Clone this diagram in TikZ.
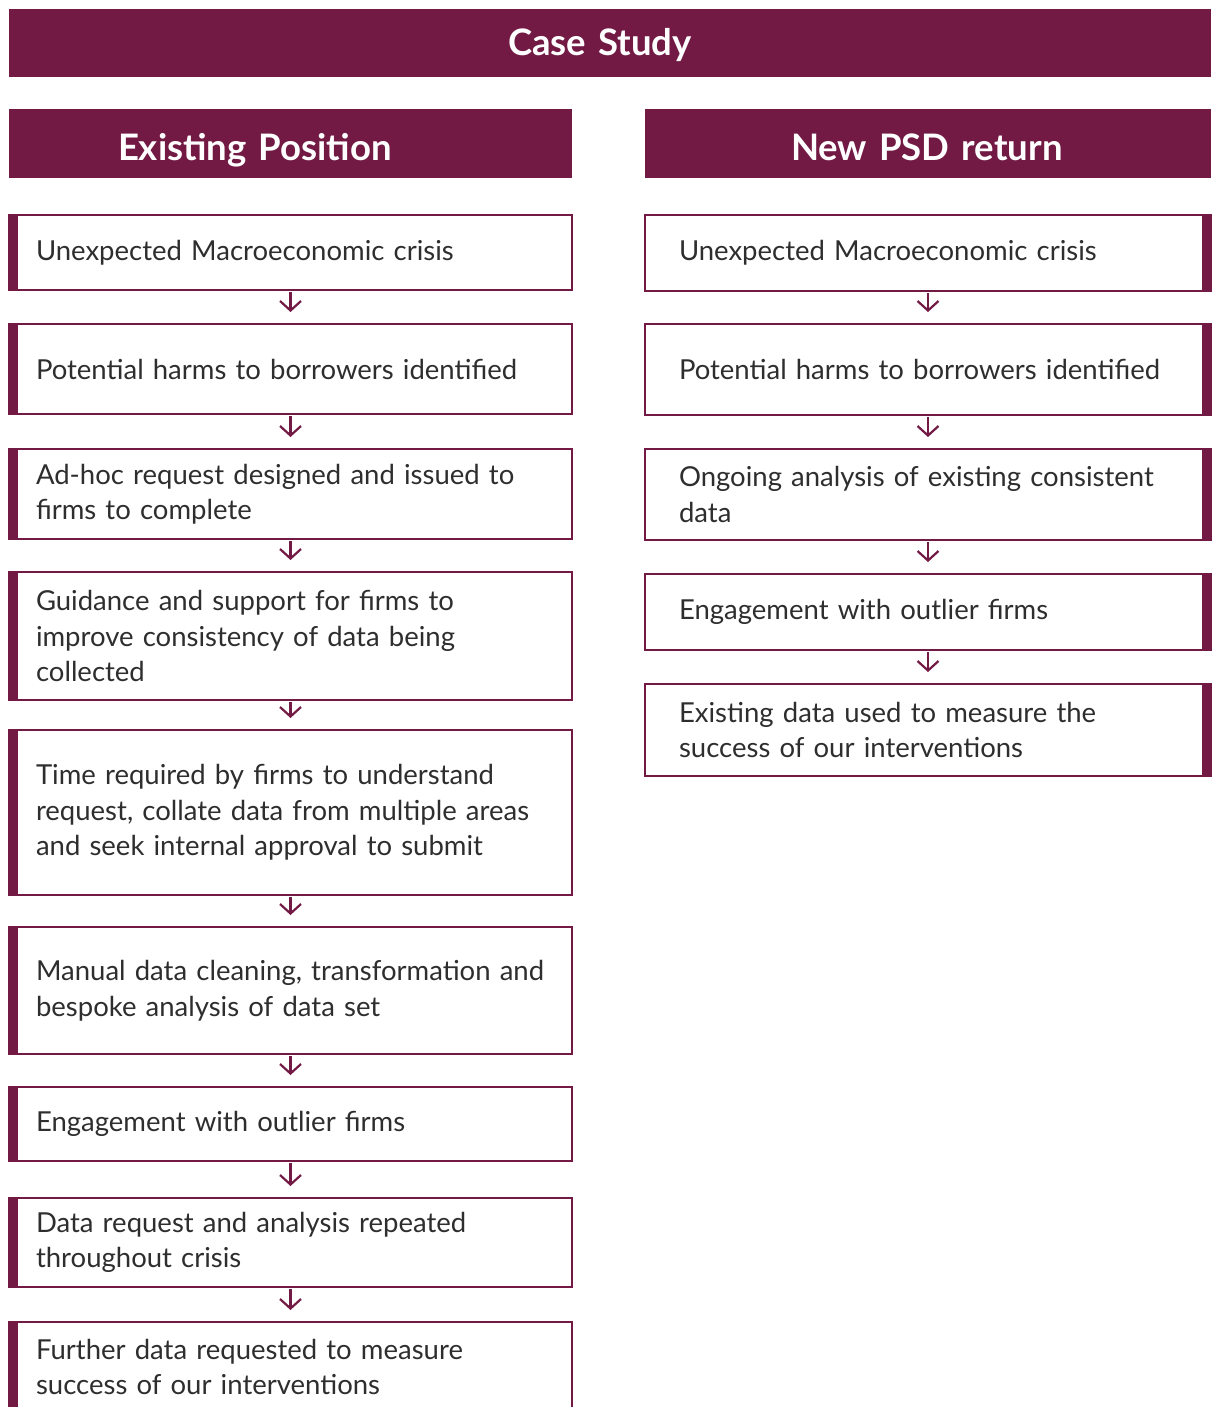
\documentclass[tikz,border=0pt]{standalone}
\usepackage{fontspec}
\setmainfont{Lato}[WordSpace=0.78]
\usepackage{tikz}
\usetikzlibrary{arrows.meta,positioning}
\definecolor{plum}{RGB}{114,26,68}
\tikzset{
  banner/.style={fill=plum, text=white, font=\bfseries\fontsize{36.5}{40}\selectfont,
                 text height=52pt, text depth=17pt, inner ysep=0pt, anchor=north west,
                 align=left, outer sep=0pt},
  stepbox/.style={draw=plum, line width=1.4pt, fill=white, align=left, inner ysep=0pt,
                  outer sep=0pt, font=\fontsize{27.5}{35.5}\selectfont, text=black!82},
  stepL/.style={stepbox, minimum width=563pt, text width=509pt, inner xsep=27pt,
                path picture={\fill[plum] (path picture bounding box.north west)
                  rectangle ([xshift=8.5pt]path picture bounding box.south west);}},
  stepR/.style={stepbox, minimum width=566pt, text width=498pt, inner xsep=34pt,
                path picture={\fill[plum] ([xshift=-9pt]path picture bounding box.north east)
                  rectangle (path picture bounding box.south east);}},
  flow/.style={-{Straight Barb[length=9.5pt,width=21pt]}, line width=2.2pt, draw=plum,
               shorten <=2pt, shorten >=12pt},
}

\begin{document}
\begin{tikzpicture}[x=1pt, y=-1pt, node distance=34pt]
  \useasboundingbox (0,0) rectangle (1213,1407);
  \clip (0,0) rectangle (1213,1407);
  \node[banner, text height=47pt, text depth=21pt, text width=204pt, inner xsep=499pt] (title) at (9,9) {Case Study};
  \node[banner, text width=345pt, inner xsep=109pt] (hdrL) at (9,109) {Existing Position};
  \node[banner, text width=274pt, inner xsep=146pt] (hdrR) at (645,109) {New PSD return};
  % existing position
  \node[stepL, minimum height=75pt, below=37pt of hdrL] (L1) {Unexpected Macroeconomic crisis};
  \node[stepL, minimum height=90pt, below=of L1] (L2) {Potential harms to borrowers identified};
  \node[stepL, minimum height=90pt, below=35pt of L2] (L3) {Ad-hoc request designed and issued to\\firms to complete};
  \node[stepL, minimum height=128pt, below=33pt of L3] (L4) {Guidance and support for firms to\\improve consistency of data being\\collected};
  \node[stepL, minimum height=165pt, below=30pt of L4] (L5) {Time required by firms to understand\\request, collate data from multiple areas\\and seek internal approval to submit};
  \node[stepL, minimum height=127pt, below=32pt of L5] (L6) {Manual data cleaning, transformation and\\bespoke analysis of data set};
  \node[stepL, minimum height=74pt, below=33pt of L6] (L7) {Engagement with outlier firms};
  \node[stepL, minimum height=89pt, below=37pt of L7] (L8) {Data request and analysis repeated\\throughout crisis};
  \node[stepL, minimum height=90pt, below=35pt of L8] (L9) {Further data requested to measure\\success of our interventions};
  % new PSD return
  \node[stepR, minimum height=76pt, below=37pt of hdrR] (R1) {Unexpected Macroeconomic crisis};
  \node[stepR, minimum height=91pt, below=33pt of R1] (R2) {Potential harms to borrowers identified};
  \node[stepR, minimum height=91pt, below=of R2] (R3) {Ongoing analysis of existing consistent\\data};
  \node[stepR, minimum height=76pt, below=of R3] (R4) {Engagement with outlier firms};
  \node[stepR, minimum height=92pt, below=of R4] (R5) {Existing data used to measure the\\success of our interventions};
  \draw[flow] (L1)--(L2); \draw[flow] (L2)--(L3); \draw[flow] (L3)--(L4); \draw[flow] (L4)--(L5);
  \draw[flow] (L5)--(L6); \draw[flow] (L6)--(L7); \draw[flow] (L7)--(L8); \draw[flow] (L8)--(L9);
  \draw[flow] (R1)--(R2); \draw[flow] (R2)--(R3); \draw[flow] (R3)--(R4); \draw[flow] (R4)--(R5);
\end{tikzpicture}
\end{document}
